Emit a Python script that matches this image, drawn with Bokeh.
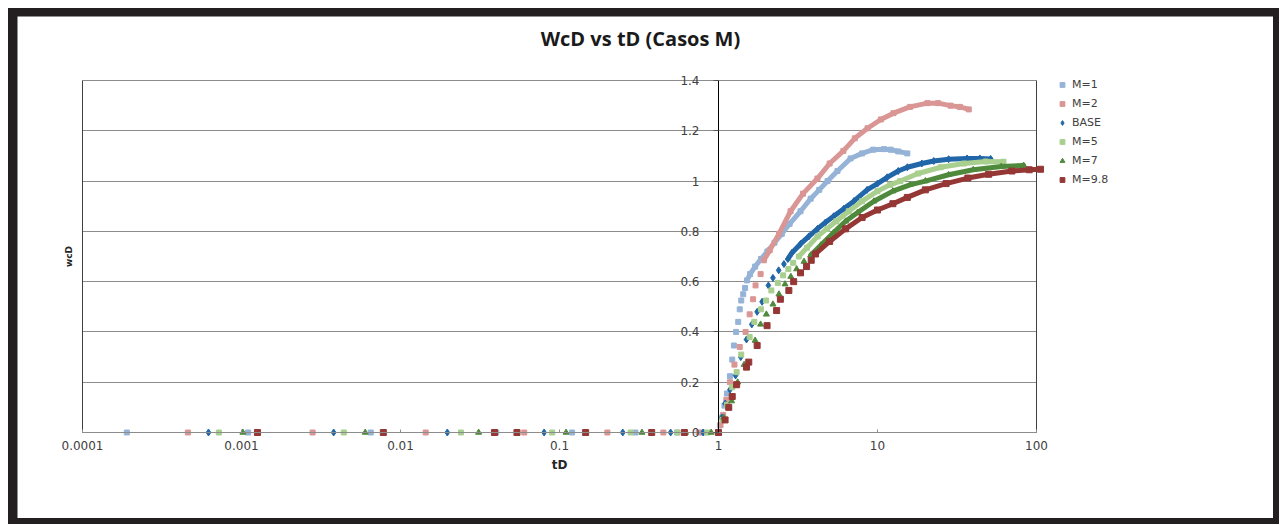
import math
from bokeh.plotting import figure
from bokeh.models import (Range1d, LinearAxis, LogAxis, FixedTicker, NumeralTickFormatter, Legend,
                          LegendItem, Label, CustomJSTickFormatter)
from bokeh.layouts import column
from bokeh.embed import file_html
from bokeh.resources import INLINE

# ---------------- data ----------------
series_names = ["M=1", "M=2", "BASE", "M=5", "M=7", "M=9.8"]

m1_td = [1.9e-4, 1.1e-3, 6.5e-3, 0.04, 0.12, 0.3, 0.55, 0.8, 1.0,
         1.02, 1.055, 1.09, 1.13, 1.18, 1.22, 1.25, 1.29, 1.33, 1.36, 1.39, 1.43, 1.47, 1.51, 1.58,
         1.7, 1.85, 2.03, 2.25, 2.5, 2.8, 3.28, 3.8, 4.3, 4.85, 5.6, 6.77, 8.0, 9.4, 11.0, 12.1, 13.5, 15.4]
m1_wcd = [0, 0, 0, 0, 0, 0, 0, 0, 0,
          0.028, 0.06, 0.107, 0.155, 0.224, 0.29, 0.346, 0.40, 0.44, 0.49, 0.525, 0.55, 0.575, 0.605, 0.63,
          0.66, 0.69, 0.72, 0.755, 0.79, 0.83, 0.88, 0.93, 0.965, 1.0, 1.04, 1.09, 1.11, 1.125, 1.127, 1.125, 1.118, 1.11]

m2_td = [4.6e-4, 2.8e-3, 0.0144, 0.06, 0.2, 0.45, 0.75, 1.0,
         1.03, 1.07, 1.12, 1.18, 1.26, 1.36, 1.48, 1.57, 1.65, 1.71, 1.84, 1.93,
         2.1, 2.4, 2.84, 3.4, 4.19, 5.0, 6.1, 7.2, 8.66, 10.5, 12.6, 16.0, 20.6, 24.0, 28.8, 33.0, 37.5]
m2_wcd = [0, 0, 0, 0, 0, 0, 0, 0,
          0.03, 0.07, 0.13, 0.2, 0.27, 0.34, 0.40, 0.47, 0.53, 0.585, 0.63, 0.685,
          0.725, 0.79, 0.88, 0.95, 1.01, 1.07, 1.12, 1.17, 1.21, 1.245, 1.27, 1.295, 1.31, 1.31, 1.30, 1.295, 1.285]

base_td = [6.2e-4, 3.8e-3, 0.0197, 0.08, 0.25, 0.5, 0.8, 1.0,
           1.05, 1.1, 1.18, 1.28, 1.38, 1.5, 1.62, 1.75, 1.88, 2.06, 2.2, 2.39, 2.58, 2.73,
           2.9, 3.28, 3.7, 4.19, 4.7, 5.3, 6.14, 7.1, 8.6, 10.0, 11.5, 13.5, 15.4, 19.0, 22.6, 28.0, 36.6, 44.0, 51.5]
base_wcd = [0, 0, 0, 0, 0, 0, 0, 0,
            0.06, 0.115, 0.17, 0.227, 0.30, 0.37, 0.43, 0.48, 0.52, 0.585, 0.615, 0.645, 0.67, 0.69,
            0.715, 0.75, 0.78, 0.81, 0.835, 0.86, 0.89, 0.92, 0.965, 0.99, 1.015, 1.04, 1.055, 1.07, 1.08, 1.087, 1.09, 1.09, 1.088]

m5_td = [7.2e-4, 4.4e-3, 0.024, 0.09, 0.28, 0.55, 0.85, 1.0,
         1.06, 1.13, 1.22, 1.3, 1.39, 1.57, 1.68, 1.85, 1.99, 2.15, 2.36, 2.55, 2.75, 2.95,
         3.2, 3.6, 4.2, 4.8, 5.5, 6.6, 8.0, 10.0, 12.0, 13.9, 18.0, 25.0, 35.0, 48.0, 62.0]
m5_wcd = [0, 0, 0, 0, 0, 0, 0, 0,
          0.05, 0.11, 0.18, 0.24, 0.31, 0.38, 0.44, 0.49, 0.525, 0.565, 0.595, 0.625, 0.65, 0.675,
          0.70, 0.735, 0.78, 0.81, 0.84, 0.88, 0.92, 0.96, 0.985, 1.0, 1.03, 1.055, 1.07, 1.078, 1.077]

m7_td = [1.02e-3, 6.0e-3, 0.031, 0.11, 0.33, 0.62, 0.9, 1.0,
         1.08, 1.16, 1.21, 1.32, 1.45, 1.7, 1.84, 2.0, 2.2, 2.4, 2.62, 2.85, 3.1, 3.45,
         3.8, 4.4, 5.3, 6.3, 7.5, 9.5, 12.5, 16.0, 20.0, 28.0, 40.0, 60.0, 83.0]
m7_wcd = [0, 0, 0, 0, 0, 0, 0, 0,
          0.06, 0.10, 0.125, 0.2, 0.27, 0.366, 0.43, 0.47, 0.51, 0.55, 0.59, 0.62, 0.65, 0.68,
          0.705, 0.745, 0.795, 0.84, 0.875, 0.92, 0.96, 0.985, 1.0, 1.025, 1.045, 1.058, 1.062]

m98_td = [1.26e-3, 7.8e-3, 0.039, 0.054, 0.146, 0.38, 0.61, 1.0,
          1.1, 1.16, 1.22, 1.3, 1.5, 1.55, 1.75, 2.02, 2.32, 2.45, 2.77, 2.97, 3.28, 3.58, 3.83,
          4.07, 5.0, 6.3, 8.0, 10.0, 12.5, 15.4, 20.0, 27.0, 37.0, 50.0, 70.0, 90.0, 106.0]
m98_wcd = [0, 0, 0, 0, 0, 0, 0, 0,
           0.05, 0.1, 0.143, 0.19, 0.26, 0.28, 0.346, 0.425, 0.485, 0.53, 0.565, 0.60, 0.635, 0.66, 0.685,
           0.71, 0.76, 0.81, 0.855, 0.885, 0.91, 0.935, 0.965, 0.99, 1.012, 1.027, 1.04, 1.045, 1.047]

x_ticks = [0.0001, 0.001, 0.01, 0.1, 1, 10, 100]
x_labels = ["0.0001", "0.001", "0.01", "0.1", "1", "10", "100"]
y_ticks = [0, 0.2, 0.4, 0.6, 0.8, 1.0, 1.2, 1.4]

# ---------------- styles ----------------
colors = ["#95B3D7", "#D99694", "#2066A8", "#A9CF8F", "#4F8A3C", "#953735"]
markers = ["square", "square", "diamond", "square", "triangle", "square"]
sizes = [5, 5, 7, 5, 6, 6]
dense_from = [0.6, 0.68, 0.69, 0.69, 0.70, 0.70]   # where the markers merge into a ribbon

all_td = [m1_td, m2_td, base_td, m5_td, m7_td, m98_td]
all_wcd = [m1_wcd, m2_wcd, base_wcd, m5_wcd, m7_wcd, m98_wcd]

FONT = "DejaVu Sans"
TXT = "#404040"

# ---------------- geometry (page pixels) ----------------
W, H = 1256, 502            # the drawing; it is all plot frame
LEFT, TOP = 17, 16          # where the drawing starts on the page
PX_XMIN, PX_XMAX = 82, 1036 # page x of first / last x tick
PX_Y0, PX_YMAX = 432, 80    # page y of first / last y tick
dec_px = (PX_XMAX - PX_XMIN) / (math.log10(x_ticks[-1]) - math.log10(x_ticks[0]))
x_start = x_ticks[0] * 10 ** (-(PX_XMIN - LEFT) / dec_px)
x_end = x_ticks[-1] * 10 ** ((LEFT + W - PX_XMAX) / dec_px)
unit_px = (PX_Y0 - PX_YMAX) / (y_ticks[-1] - y_ticks[0])
y_start = y_ticks[0] - (TOP + H - PX_Y0) / unit_px
y_end = y_ticks[-1] + (PX_YMAX - TOP) / unit_px

p = figure(width=W, height=H, x_axis_type="log",
           x_range=Range1d(x_start, x_end), y_range=Range1d(y_start, y_end),
           x_axis_location=None, y_axis_location=None,
           output_backend="svg", toolbar_location=None,
           min_border_left=0, min_border_right=0, min_border_top=0, min_border_bottom=0)
p.title = None
p.outline_line_color = None
p.background_fill_color = "white"
p.border_fill_color = "white"

# grid
p.xgrid.visible = False
p.ygrid.ticker = FixedTicker(ticks=y_ticks)
p.ygrid.grid_line_color = "#8c8c8c"
p.ygrid.grid_line_width = 1
p.ygrid.cross_bounds = (x_ticks[0], x_ticks[-1])

# x axis along wcD = 0
xa = LogAxis(fixed_location=y_ticks[0], ticker=FixedTicker(ticks=x_ticks),
             bounds=(x_ticks[0], x_ticks[-1]))
xa.formatter = CustomJSTickFormatter(args=dict(tk=x_ticks, lb=x_labels), code="""
    let best = 0, bd = 1e9;
    for (let i = 0; i < tk.length; i++) {
        const d = Math.abs(Math.log10(tk[i]) - Math.log10(tick));
        if (d < bd) { bd = d; best = i; }
    }
    return lb[best];
""")
xa.minor_tick_line_color = None
xa.major_tick_in = 3
xa.major_tick_out = 0
xa.axis_line_color = "#8c8c8c"
xa.major_tick_line_color = "#8c8c8c"
xa.major_label_text_font = FONT
xa.major_label_text_font_size = "12px"
xa.major_label_text_color = TXT
xa.major_label_standoff = 8
xa.axis_label = "tD"
xa.axis_label_text_font = FONT
xa.axis_label_text_font_size = "12px"
xa.axis_label_text_font_style = "bold"
xa.axis_label_text_color = "#262626"
xa.axis_label_standoff = 5
p.add_layout(xa, "below")

# y axis crossing at tD = 1
ya = LinearAxis(fixed_location=1, ticker=FixedTicker(ticks=y_ticks),
                formatter=NumeralTickFormatter(format="0.[0]"),
                bounds=(y_ticks[0], y_ticks[-1]))
ya.minor_tick_line_color = None
ya.major_tick_in = 0
ya.major_tick_out = 5
ya.axis_line_color = "black"
ya.major_tick_line_color = "#555555"
ya.major_label_text_font = FONT
ya.major_label_text_font_size = "12px"
ya.major_label_text_color = TXT
ya.major_label_standoff = 14
p.add_layout(ya, "left")

# plot-area side edges (from the first to the last tick)
p.segment(x0=[x_ticks[0], x_ticks[-1]], y0=[y_ticks[0]] * 2,
          x1=[x_ticks[0], x_ticks[-1]], y1=[y_ticks[-1]] * 2,
          line_color="#404040", line_width=1)

# title and vertical axis title (screen units, measured from the drawing's bottom-left)
p.add_layout(Label(x=640 - LEFT, y=TOP + H - 38, x_units="screen", y_units="screen",
                   text="WcD vs tD (Casos M)", text_align="center", text_baseline="middle",
                   text_font="Open Sans", text_font_size="20px", text_font_style="bold",
                   text_color="#1a1a1a"))
p.add_layout(Label(x=68 - LEFT, y=TOP + H - 256, x_units="screen", y_units="screen",
                   text="wcD", angle=math.pi / 2, text_align="center", text_baseline="middle",
                   text_font=FONT, text_font_size="9px", text_font_style="bold",
                   text_color="#262626"))

items = []
for name, td, wcd, c, mk, sz, df in zip(series_names, all_td, all_wcd, colors, markers, sizes, dense_from):
    dtd = [t for t, w in zip(td, wcd) if w >= df]
    dwc = [w for w in wcd if w >= df]
    p.line(dtd, dwc, line_color=c, line_width=5, line_cap="round", line_join="round")
    r = p.scatter(td, wcd, marker=mk, size=sz, fill_color=c, line_color=c)
    items.append(LegendItem(label=name, renderers=[r]))

legend = Legend(items=items, location=(1056 - LEFT, TOP + H - 186))
legend.background_fill_alpha = 0
legend.border_line_color = None
legend.padding = 0
legend.margin = 0
legend.glyph_width = 12
legend.glyph_height = 13
legend.label_height = 13
legend.spacing = 6
legend.label_standoff = 4
legend.label_text_font = FONT
legend.label_text_font_size = "11px"
legend.label_text_color = TXT
p.add_layout(legend)

layout = column(p, styles={"margin": "8px 0px 0px 8px", "padding": "8px 6px 6px 9px",
                           "background-color": "#231f20"})

open("out.html", "w").write(file_html(layout, INLINE))
